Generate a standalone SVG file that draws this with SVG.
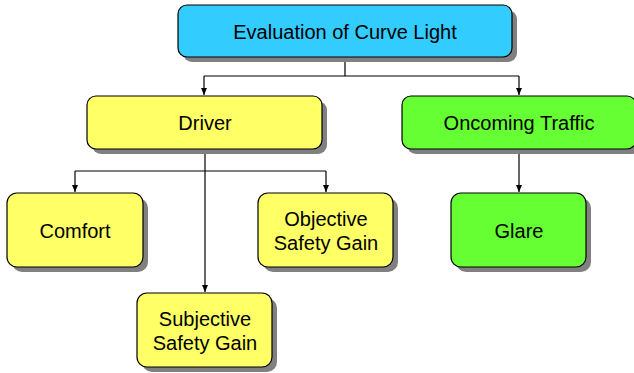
<svg xmlns="http://www.w3.org/2000/svg" width="634" height="373" viewBox="0 0 634 373">
<style>
.shadow{fill:#808080}
.box{stroke:#000;stroke-width:1.2}
.blue{fill:#33CCFF}
.yellow{fill:#FFFF66}
.green{fill:#66FF33}
text{font-family:"Liberation Sans",Arial,sans-serif;font-size:20px;fill:#000;text-anchor:middle}
.conn{fill:none;stroke:#000;stroke-width:1.2}
</style>
<defs>
<marker id="arr" markerWidth="8" markerHeight="8" refX="7" refY="4" orient="auto" markerUnits="userSpaceOnUse">
<path d="M0,1 L7,4 L0,7 z" fill="#000"/>
</marker>
</defs>
<rect width="634" height="373" fill="#fff"/>
<g id="connectors">
<path class="conn" d="M345,57 V76 M204,76 H519"/>
<path class="conn" d="M204,76 V95" marker-end="url(#arr)"/>
<path class="conn" d="M519,76 V95" marker-end="url(#arr)"/>
<path class="conn" d="M75,171 H326"/>
<path class="conn" d="M75,171 V192" marker-end="url(#arr)"/>
<path class="conn" d="M326,171 V192" marker-end="url(#arr)"/>
<path class="conn" d="M205,149 V292" marker-end="url(#arr)"/>
<path class="conn" d="M519,149 V192" marker-end="url(#arr)"/>
</g>
<g id="evaluation">
<rect class="shadow" x="183" y="10" width="334" height="52" rx="9"/>
<rect class="box blue" x="178" y="5" width="334" height="52" rx="9"/>
<text x="345" y="39">Evaluation of Curve Light</text>
</g>
<g id="driver">
<rect class="shadow" x="92" y="101" width="235" height="53" rx="9"/>
<rect class="box yellow" x="87" y="96" width="235" height="53" rx="9"/>
<text x="205" y="130">Driver</text>
</g>
<g id="oncoming">
<rect class="shadow" x="407" y="101" width="234" height="53" rx="9"/>
<rect class="box green" x="402" y="96" width="234" height="53" rx="9"/>
<text x="519" y="130">Oncoming Traffic</text>
</g>
<g id="comfort">
<rect class="shadow" x="12" y="198" width="136" height="74" rx="10"/>
<rect class="box yellow" x="7" y="193" width="136" height="74" rx="10"/>
<text x="75" y="238">Comfort</text>
</g>
<g id="objective">
<rect class="shadow" x="263" y="198" width="135" height="74" rx="10"/>
<rect class="box yellow" x="258" y="193" width="135" height="74" rx="10"/>
<text x="326" y="226">Objective</text>
<text x="326" y="250">Safety Gain</text>
</g>
<g id="subjective">
<rect class="shadow" x="142" y="298" width="135" height="74" rx="10"/>
<rect class="box yellow" x="137" y="293" width="135" height="74" rx="10"/>
<text x="205" y="326">Subjective</text>
<text x="205" y="350">Safety Gain</text>
</g>
<g id="glare">
<rect class="shadow" x="456" y="198" width="135" height="74" rx="10"/>
<rect class="box green" x="451" y="193" width="135" height="74" rx="10"/>
<text x="519" y="238">Glare</text>
</g>
</svg>
